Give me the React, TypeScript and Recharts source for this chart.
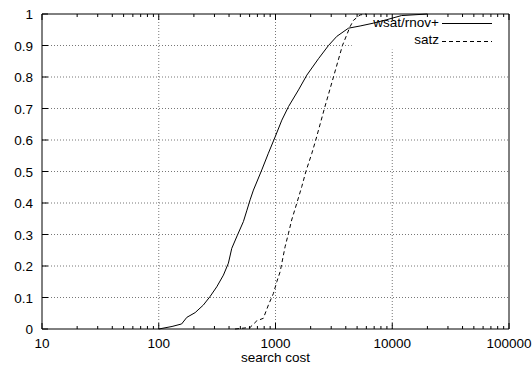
import {
  LineChart,
  Line,
  XAxis,
  YAxis,
  ReferenceLine,
  Customized,
} from "recharts";

// search cost / fraction solved
const wsatCost = [
  100, 130, 157, 174, 205, 241, 275, 314, 358, 395, 422, 472, 531, 567, 606,
  647, 763, 869, 993, 1133, 1292, 1574, 1855, 2333, 2843, 3350, 4217, 5306,
  6906, 8990, 12000, 20000,
];
const wsatFrac = [
  0, 0.008, 0.016, 0.037, 0.052, 0.076, 0.103, 0.134, 0.171, 0.209, 0.256,
  0.298, 0.341, 0.375, 0.41, 0.441, 0.505, 0.558, 0.61, 0.663, 0.706, 0.759,
  0.806, 0.858, 0.9, 0.929, 0.955, 0.962, 0.971, 0.982, 0.995, 1,
];

const satzCost = [
  450, 606, 692, 787, 869, 960, 1026, 1096, 1133, 1208, 1292, 1376, 1521, 1679,
  1820, 2049, 2213, 2624, 3136, 3744, 4355, 4655, 5306, 6000,
];
const satzFrac = [
  0, 0.005, 0.026, 0.034, 0.076, 0.113, 0.15, 0.182, 0.209, 0.261, 0.304,
  0.346, 0.399, 0.452, 0.5, 0.558, 0.6, 0.7, 0.8, 0.9, 0.96, 0.98, 0.997, 1,
];

const xMajor = [10, 100, 1000, 10000, 100000];
const xMinorSteps = [2, 3, 4, 5, 6, 7, 8, 9];
const yTicks = [0, 0.1, 0.2, 0.3, 0.4, 0.5, 0.6, 0.7, 0.8, 0.9, 1];
const xGrid = [100, 1000, 10000];
const yGrid = [0.1, 0.2, 0.3, 0.4, 0.5, 0.6, 0.7, 0.8, 0.9];

// grid is left out where the key sits
const keyLeft = 4500;
const keyBottom = 0.887;

const xTicks = xMajor.flatMap((d) =>
  d === 100000 ? [d] : [d, ...xMinorSteps.map((m) => m * d)]
);

const wsat = wsatCost.map((c, i) => ({ x: c, y: wsatFrac[i] }));
const satz = satzCost.map((c, i) => ({ x: c, y: satzFrac[i] }));

const font = "'Liberation Sans', Arial, Helvetica, sans-serif";
const gridStyle = { stroke: "#777", strokeDasharray: "1 2", strokeWidth: 1 };

const BottomTick = ({ x, y, payload }: any) => {
  const major = xMajor.includes(payload.value);
  return (
    <g>
      <line x1={x} y1={y} x2={x} y2={y - (major ? 6 : 3)} stroke="#000" />
      {major && (
        <text x={x} y={y + 19} textAnchor="middle" fontSize={13.5} fontFamily={font} fill="#000">
          {payload.value}
        </text>
      )}
    </g>
  );
};

const TopTick = ({ x, y, payload }: any) => {
  const major = xMajor.includes(payload.value);
  return <line x1={x} y1={y} x2={x} y2={y + (major ? 6 : 3)} stroke="#000" />;
};

const LeftTick = ({ x, y, payload }: any) => (
  <g>
    <line x1={x} y1={y} x2={x + 6} y2={y} stroke="#000" />
    <text x={x - 9} y={y + 5} textAnchor="end" fontSize={13.5} fontFamily={font} fill="#000">
      {payload.value}
    </text>
  </g>
);

const RightTick = ({ x, y }: any) => (
  <line x1={x} y1={y} x2={x - 6} y2={y} stroke="#000" />
);

const Key = () => (
  <g fontFamily={font} fontSize={13.5} fill="#000">
    <text x={439} y={27} textAnchor="end">wsat/rnov+</text>
    <line x1={442} y1={23.5} x2={492} y2={23.5} stroke="#000" />
    <text x={439} y={44} textAnchor="end">satz</text>
    <line x1={442} y1={41.5} x2={492} y2={41.5} stroke="#000" strokeDasharray="4 3" />
  </g>
);

export default function App() {
  return (
    <div style={{ position: "absolute", left: 0, top: 0, background: "#fff" }}>
      <LineChart
        width={532}
        height={370}
        margin={{ top: 13, right: 22, bottom: 40, left: 41 }}
      >
        <XAxis
          xAxisId="b"
          dataKey="x"
          type="number"
          scale="log"
          domain={[10, 100000]}
          allowDataOverflow
          ticks={xTicks}
          interval={0}
          height={1}
          tickSize={0}
          tickMargin={0}
          tick={<BottomTick />}
          stroke="#000"
        />
        <XAxis
          xAxisId="t"
          orientation="top"
          dataKey="x"
          type="number"
          scale="log"
          domain={[10, 100000]}
          allowDataOverflow
          ticks={xTicks}
          interval={0}
          height={1}
          tickSize={0}
          tickMargin={0}
          tick={<TopTick />}
          stroke="#000"
        />
        <YAxis
          yAxisId="l"
          type="number"
          domain={[0, 1]}
          ticks={yTicks}
          interval={0}
          width={1}
          tickSize={0}
          tickMargin={0}
          tick={<LeftTick />}
          stroke="#000"
        />
        <YAxis
          yAxisId="r"
          orientation="right"
          type="number"
          domain={[0, 1]}
          ticks={yTicks}
          interval={0}
          width={1}
          tickSize={0}
          tickMargin={0}
          tick={<RightTick />}
          stroke="#000"
        />
        {xGrid.map((v) => (
          <ReferenceLine
            key={"gx" + v}
            xAxisId="b"
            yAxisId="l"
            segment={[{ x: v, y: 0 }, { x: v, y: v > keyLeft ? keyBottom : 1 }]}
            {...gridStyle}
          />
        ))}
        {yGrid.map((v) => (
          <ReferenceLine
            key={"gy" + v}
            xAxisId="b"
            yAxisId="l"
            segment={[{ x: 10, y: v }, { x: v > keyBottom ? keyLeft : 100000, y: v }]}
            {...gridStyle}
          />
        ))}
        <Line
          xAxisId="b"
          yAxisId="l"
          data={wsat}
          dataKey="y"
          type="linear"
          stroke="#000"
          strokeWidth={1}
          dot={false}
          isAnimationActive={false}
        />
        <Line
          xAxisId="b"
          yAxisId="l"
          data={satz}
          dataKey="y"
          type="linear"
          stroke="#000"
          strokeWidth={1}
          strokeDasharray="4 3"
          dot={false}
          isAnimationActive={false}
        />
        <Customized component={Key} />
        <text x={275.5} y={362} textAnchor="middle" fontSize={13.5} fontFamily={font} fill="#000">
          search cost
        </text>
      </LineChart>
    </div>
  );
}
